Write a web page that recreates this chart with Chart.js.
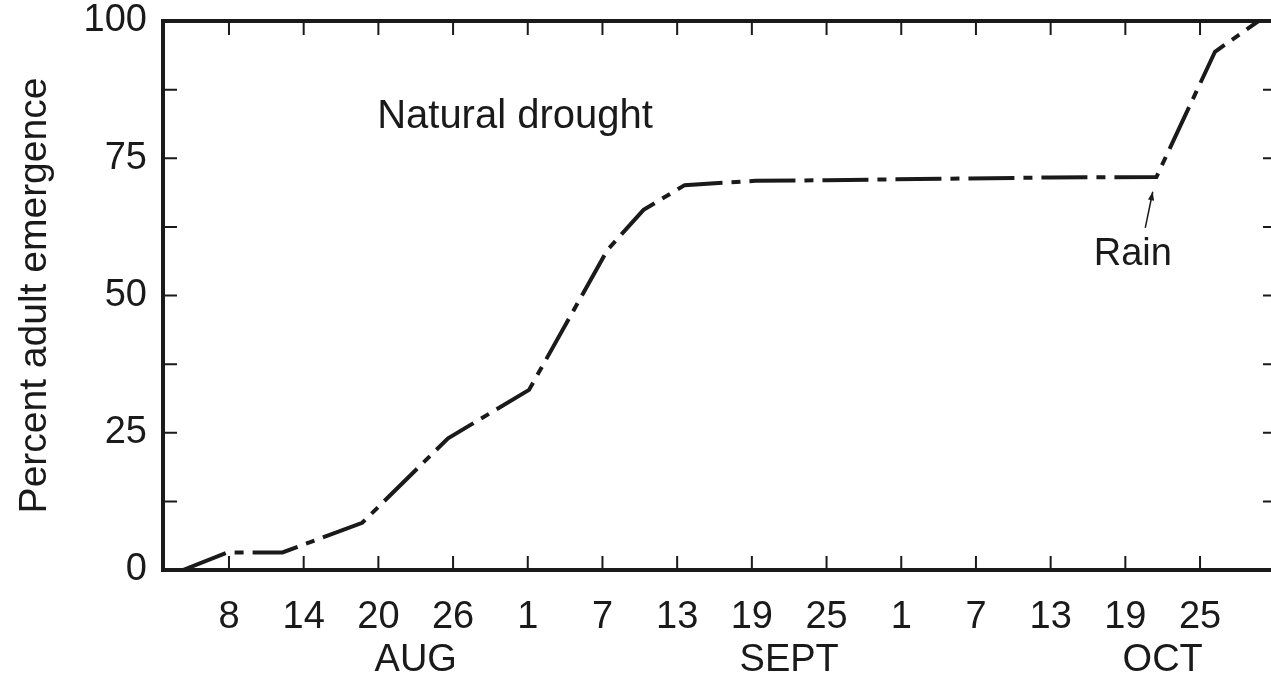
<!DOCTYPE html>
<html>
<head>
<meta charset="utf-8">
<script src="https://cdn.jsdelivr.net/npm/chart.js@4/dist/chart.umd.min.js"></script>
<style>
html, body { margin: 0; padding: 0; background: #fff; overflow: hidden; }
</style>
</head>
<body>
<canvas id="emergenceChart" width="1271" height="677"></canvas>
<script>
// day numbers: Aug d = d, Sept d = 31 + d, Oct d = 61 + d
const days = [4.3, 7.9, 12.3, 18.7, 25.6, 32.1, 38.4, 41.3, 44.6, 50.3, 56, 74, 82.5, 87.2, 90.7];
const emergence = [0, 3.2, 3.2, 8.6, 24.0, 32.8, 58.3, 65.6, 70.1, 70.9, 71.0, 71.5, 71.6, 94.4, 100];

const tickDays = [8, 14, 20, 26, 32, 38, 44, 50, 56, 62, 68, 74, 80, 86];
const tickLabels = ['8', '14', '20', '26', '1', '7', '13', '19', '25', '1', '7', '13', '19', '25'];
const monthLabels = ['AUG', 'SEPT', 'OCT'];
const monthDays = [23, 53, 83];
const yTickValues = [0, 12.5, 25, 37.5, 50, 62.5, 75, 87.5, 100];

const ink = '#1a1a1a';
const fontFamily = '"Liberation Sans", Arial, sans-serif';

// inward ticks on all four sides, top frame, month names and notes
const frameTicks = {
    id: 'frameTicks',
    afterDraw(chart) {
        const ctx = chart.ctx;
        const a = chart.chartArea;
        const x = chart.scales.x;
        const y = chart.scales.y;
        ctx.save();
        ctx.strokeStyle = ink;
        ctx.lineWidth = 4;
        ctx.beginPath();
        ctx.moveTo(a.left, a.top);
        ctx.lineTo(a.right, a.top);
        ctx.stroke();

        ctx.lineWidth = 2;
        ctx.beginPath();
        x.ticks.forEach(t => {
            const px = x.getPixelForValue(t.value);
            ctx.moveTo(px, a.bottom);
            ctx.lineTo(px, a.bottom - 14);
            ctx.moveTo(px, a.top);
            ctx.lineTo(px, a.top + 14);
        });
        y.ticks.forEach(t => {
            const py = y.getPixelForValue(t.value);
            ctx.moveTo(a.left, py);
            ctx.lineTo(a.left + 14, py);
            ctx.moveTo(a.right + 2, py);
            ctx.lineTo(a.right - 8, py);
        });
        ctx.stroke();

        ctx.fillStyle = ink;
        ctx.font = '38px ' + fontFamily;
        ctx.textAlign = 'center';
        ctx.textBaseline = 'middle';
        monthLabels.forEach((m, i) => {
            ctx.fillText(m, x.getPixelForValue(monthDays[i]), 661);
        });

        ctx.font = '40px ' + fontFamily;
        ctx.textAlign = 'left';
        ctx.fillText('Natural drought', x.getPixelForValue(19.9), y.getPixelForValue(82.6));
        ctx.font = '38px ' + fontFamily;
        ctx.textAlign = 'center';
        ctx.fillText('Rain', x.getPixelForValue(80.6), y.getPixelForValue(57.5));

        // arrow from "Rain" up to the break in the curve
        const x0 = x.getPixelForValue(81.6), y0 = y.getPixelForValue(62.3);
        const x1 = x.getPixelForValue(82.2), y1 = y.getPixelForValue(68.9);
        ctx.lineWidth = 1.5;
        ctx.beginPath();
        ctx.moveTo(x0, y0);
        ctx.lineTo(x1, y1);
        ctx.stroke();
        const ang = Math.atan2(y1 - y0, x1 - x0);
        ctx.beginPath();
        ctx.moveTo(x1, y1);
        ctx.lineTo(x1 - 9 * Math.cos(ang - 0.35), y1 - 9 * Math.sin(ang - 0.35));
        ctx.lineTo(x1 - 9 * Math.cos(ang + 0.35), y1 - 9 * Math.sin(ang + 0.35));
        ctx.closePath();
        ctx.fill();
        ctx.restore();
    }
};

const config = {
    type: 'line',
    data: {
        datasets: [{
            data: days.map((d, i) => ({x: d, y: emergence[i]})),
            borderColor: ink,
            borderWidth: 4,
            borderDash: [46, 9, 9, 9],
            pointRadius: 0,
            tension: 0,
            fill: false
        }]
    },
    options: {
        responsive: false,
        animation: false,
        devicePixelRatio: 1,
        layout: { padding: { top: 21, right: 0, bottom: 0, left: 0 } },
        plugins: {
            legend: { display: false },
            tooltip: { enabled: false }
        },
        scales: {
            x: {
                type: 'linear',
                min: 2.7,
                max: 91.7,
                afterBuildTicks: s => { s.ticks = tickDays.map(v => ({value: v})); },
                afterFit: s => {
                    s.height = 107;
                    s.paddingLeft = 0;
                    s.paddingRight = 0;
                },
                grid: { display: false, drawTicks: false },
                border: { display: true, color: ink, width: 4 },
                ticks: {
                    autoSkip: false,
                    maxRotation: 0,
                    padding: 25,
                    color: ink,
                    font: { family: fontFamily, size: 38 },
                    callback: v => tickLabels[tickDays.indexOf(v)]
                }
            },
            y: {
                min: 0,
                max: 100,
                afterBuildTicks: s => { s.ticks = yTickValues.map(v => ({value: v})); },
                afterFit: s => {
                    s.width = 163;
                    s.paddingTop = 0;
                    s.paddingBottom = 0;
                },
                grid: { display: false, drawTicks: false },
                border: { display: true, color: ink, width: 4 },
                title: {
                    display: true,
                    text: 'Percent adult emergence',
                    color: ink,
                    font: { family: fontFamily, size: 39 },
                    padding: { top: 12, bottom: 0 }
                },
                ticks: {
                    padding: 16,
                    color: ink,
                    font: { family: fontFamily, size: 38 },
                    callback: v => (v % 25 === 0 ? String(v) : '')
                }
            }
        }
    },
    plugins: [frameTicks]
};

const emergenceChart = new Chart(document.getElementById('emergenceChart'), config);
</script>
</body>
</html>
